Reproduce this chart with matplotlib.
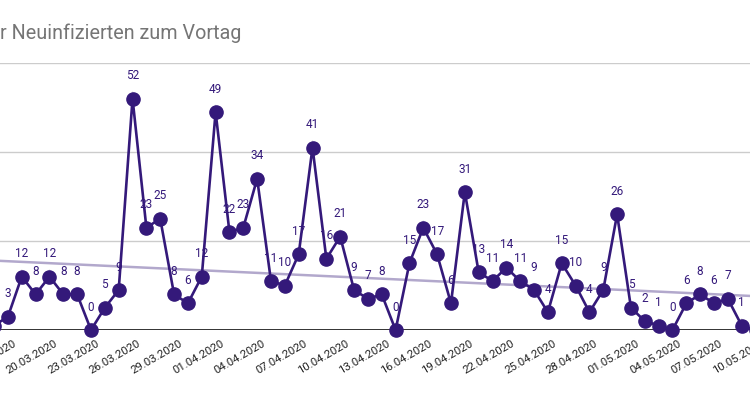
import numpy as np
import matplotlib
matplotlib.use("Agg")
import matplotlib.pyplot as plt
import matplotlib.transforms as mtrans

plt.rcParams["font.family"] = ["Roboto", "DejaVu Sans"]

# ─── DATA ─────────────────────────────────────────────────────────────────────

dates = [
    "16.03.2020", "17.03.2020", "18.03.2020", "19.03.2020", "20.03.2020",
    "21.03.2020", "22.03.2020", "23.03.2020", "24.03.2020", "25.03.2020",
    "26.03.2020", "27.03.2020", "28.03.2020", "29.03.2020", "30.03.2020",
    "31.03.2020", "01.04.2020", "02.04.2020", "03.04.2020", "04.04.2020",
    "05.04.2020", "06.04.2020", "07.04.2020", "08.04.2020", "09.04.2020",
    "10.04.2020", "11.04.2020", "12.04.2020", "13.04.2020", "14.04.2020",
    "15.04.2020", "16.04.2020", "17.04.2020", "18.04.2020", "19.04.2020",
    "20.04.2020", "21.04.2020", "22.04.2020", "23.04.2020", "24.04.2020",
    "25.04.2020", "26.04.2020", "27.04.2020", "28.04.2020", "29.04.2020",
    "30.04.2020", "01.05.2020", "02.05.2020", "03.05.2020", "04.05.2020",
    "05.05.2020", "06.05.2020", "07.05.2020", "08.05.2020", "09.05.2020",
    "10.05.2020",
]
new_cases_delta = [
    1, 3, 12, 8, 12, 8, 8, 0, 5, 9,
    52, 23, 25, 8, 6, 12, 49, 22, 23, 34,
    11, 10, 17, 41, 16, 21, 9, 7, 8, 0,
    15, 23, 17, 6, 31, 13, 11, 14, 11, 9,
    4, 15, 10, 4, 9, 26, 5, 2, 1, 0,
    6, 8, 6, 7, 1, 0,
]
# trend line values read at the left / right end of the visible plot
trend_dates = ["16.03.2020", "10.05.2020"]
trend_values = [15.6, 7.6]

title_text = "r Neuinfizierten zum Vortag"
tick_every = 3
tick_start = 1

LINE_COLOR = "#34197a"
TREND_COLOR = "#b2a8cc"

# ─── PLOT ─────────────────────────────────────────────────────────────────────

W, H = 750, 393
AX_W = 770          # axes run a bit past the right edge (the chart is cropped there)
fig = plt.figure(figsize=(W / 100, H / 100), dpi=100)
ax = fig.add_axes([0, (H - 330) / H, AX_W / W, 267 / H])

x = np.arange(len(dates))
px_per_day = 13.845
x0 = 7 - 91 / px_per_day

for g in (20, 40, 60):
    ax.axhline(g, color="#cccccc", lw=1, zorder=1)
ax.axhline(0, color="#333333", lw=1.4, zorder=2)

tx = [dates.index(d) for d in trend_dates]
ax.plot(tx, trend_values, color=TREND_COLOR, lw=1.8, zorder=2, clip_on=False)

ax.plot(x, new_cases_delta, color=LINE_COLOR, lw=1.9, marker="o", ms=9.5,
        zorder=4, clip_on=False)

for xi, v in zip(x, new_cases_delta):
    ax.annotate(str(v), xy=(xi, v), xytext=(0, 16.5), textcoords="offset points",
                ha="center", va="center", fontsize=8.5, color=LINE_COLOR,
                zorder=3, annotation_clip=False,
                arrowprops=dict(arrowstyle="-", color="#e4e4e4", lw=1,
                                shrinkA=5, shrinkB=0))

ticks = x[tick_start::tick_every]
ax.set_xticks(ticks)
ax.set_xticklabels([dates[i] for i in ticks], rotation=30, ha="right",
                   rotation_mode="anchor", fontsize=8.2, color="#222222")
ax.tick_params(axis="x", length=0, pad=6)
ax.tick_params(axis="y", left=False, labelleft=False)
offset = mtrans.ScaledTranslation(5 / 100, 0, fig.dpi_scale_trans)
for lab in ax.get_xticklabels():
    lab.set_transform(lab.get_transform() + offset)

# limits after the ticks, so the view is not widened to the last tick
ax.set_xlim(x0, x0 + AX_W / px_per_day)
ax.set_ylim(0, 60)

for s in ax.spines.values():
    s.set_visible(False)

fig.text(0, 1 - 33 / H, title_text, ha="left", va="center",
         fontsize=14.2, color="#757575")

fig.savefig("out.png", dpi=100)
